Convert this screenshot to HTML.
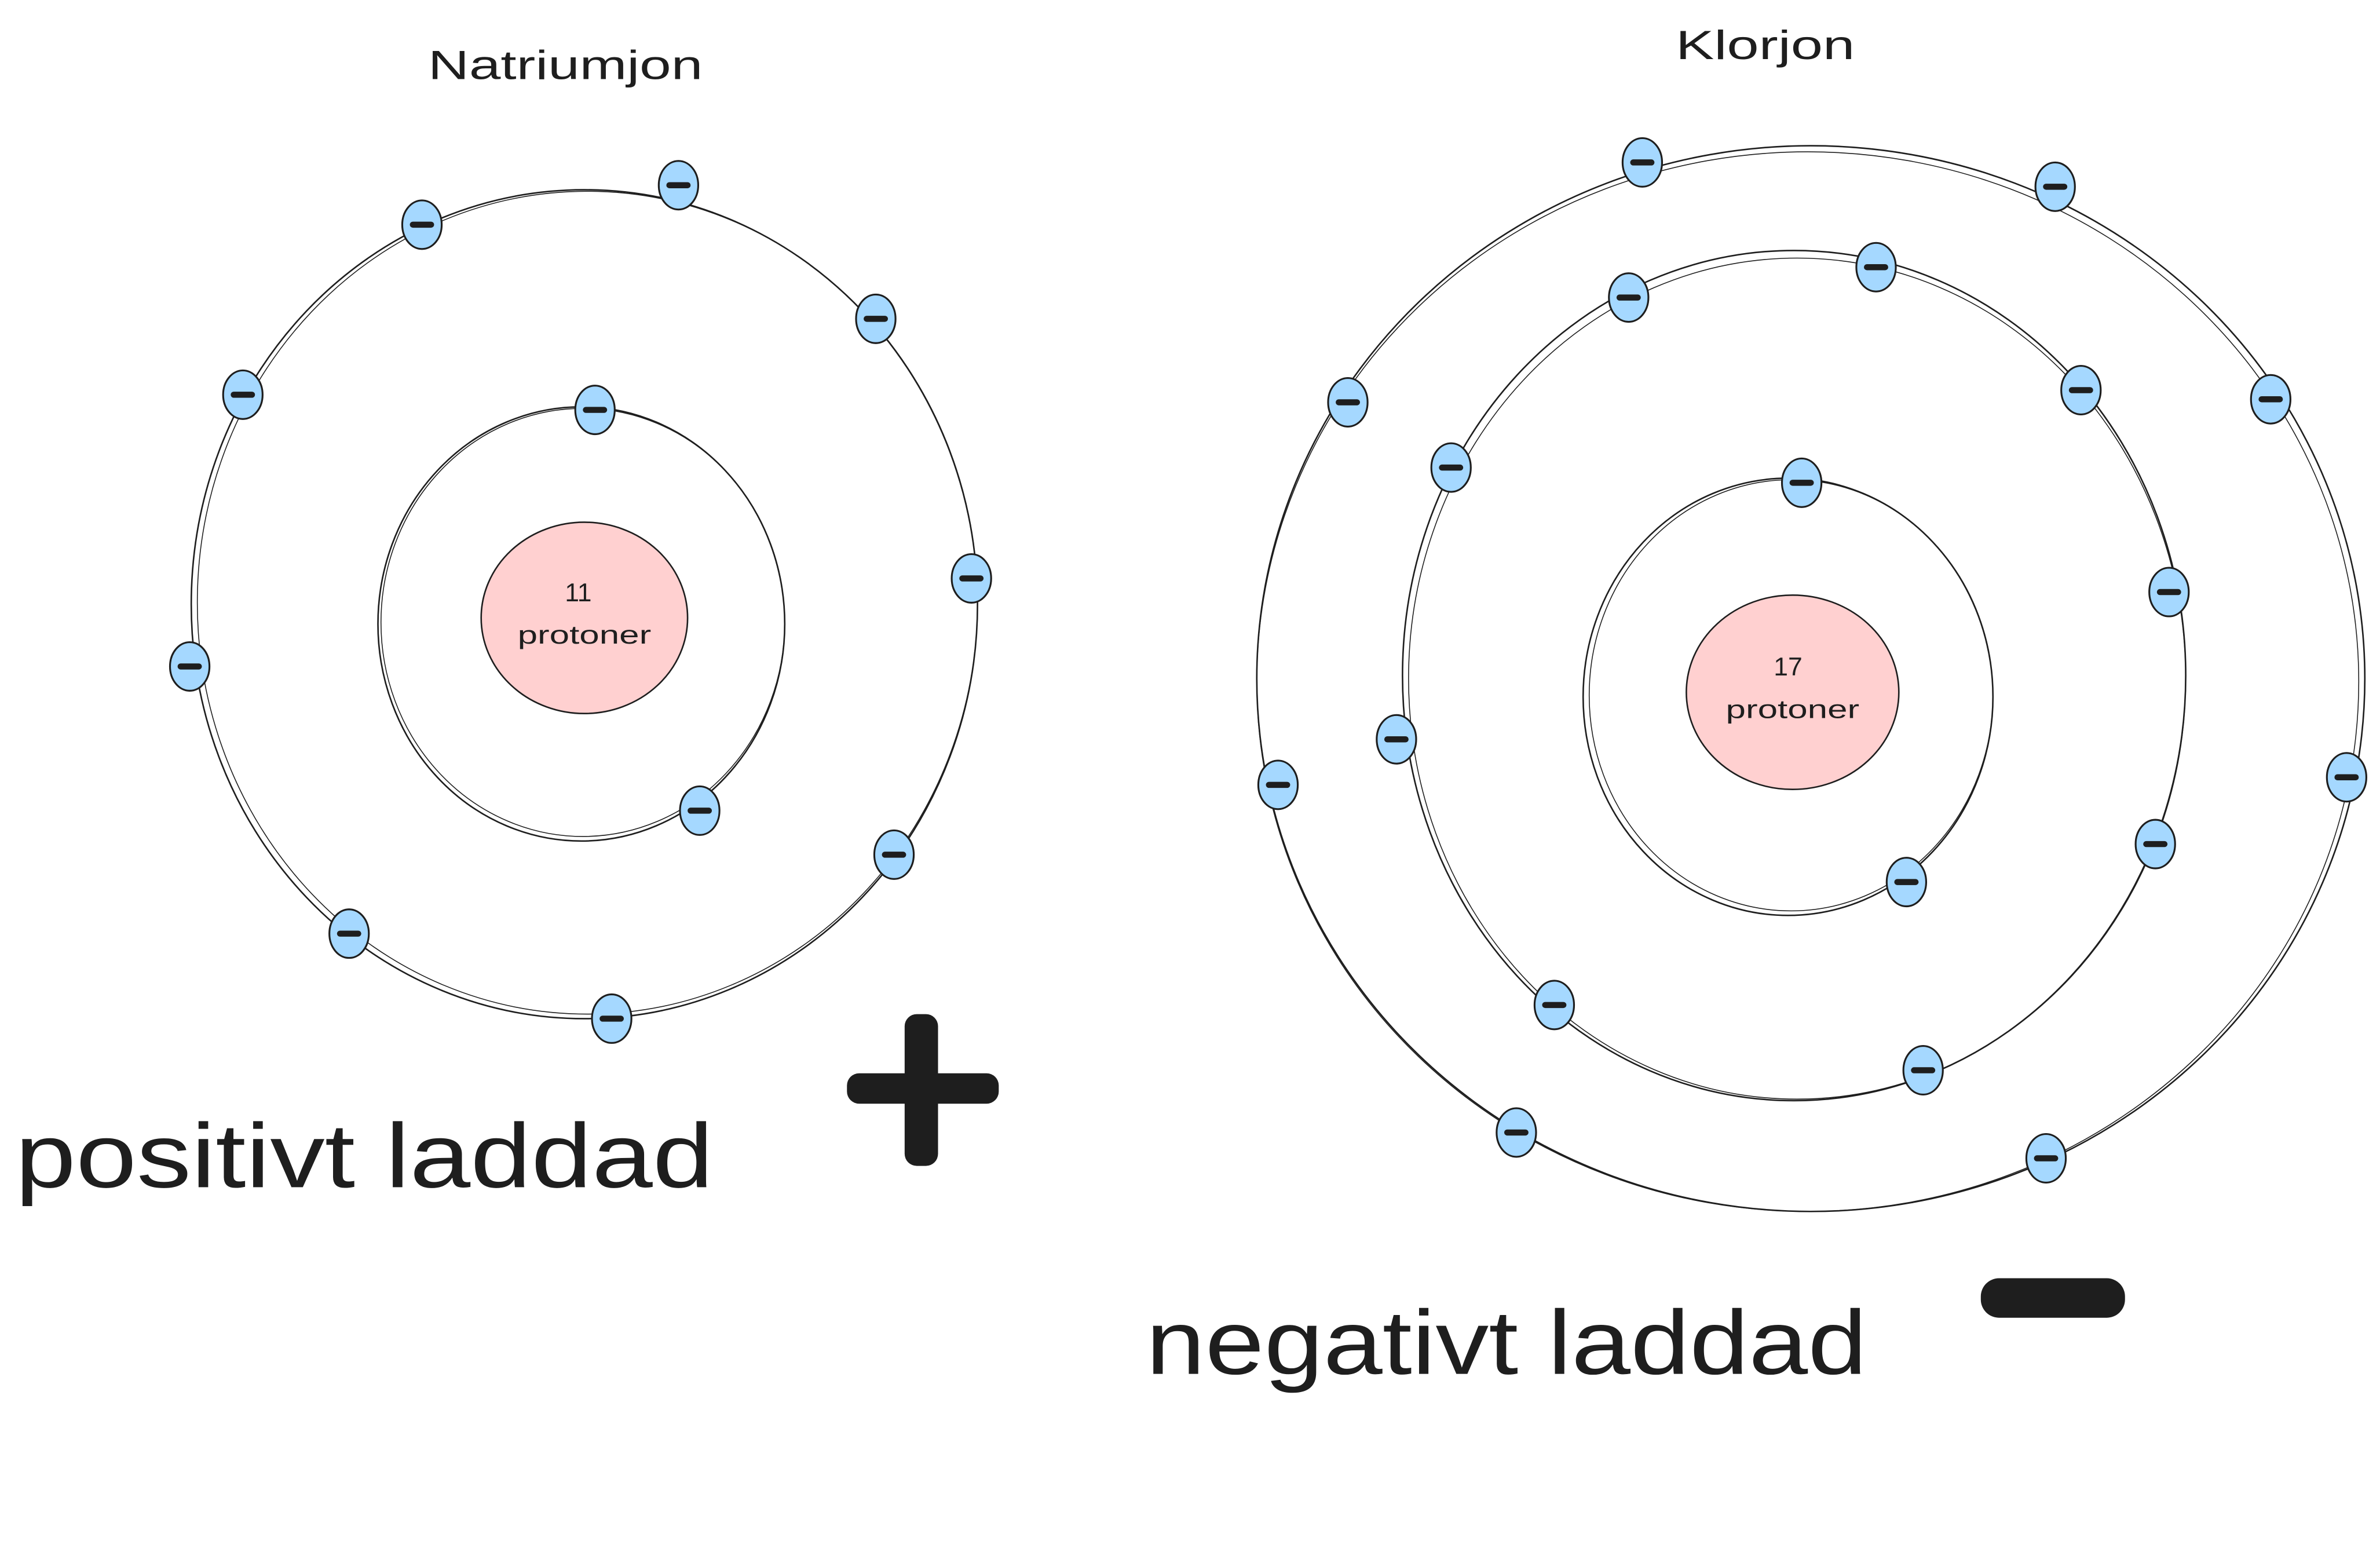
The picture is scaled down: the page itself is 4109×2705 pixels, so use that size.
<!DOCTYPE html>
<html><head><meta charset="utf-8"><style>
html,body{margin:0;padding:0;background:#fff;width:4109px;height:2705px;overflow:hidden}
svg{display:block}
text{font-family:"Liberation Sans",sans-serif;fill:#1e1e1e}
</style></head><body>
<svg width="4109" height="2705" viewBox="0 0 1568 1032.2" preserveAspectRatio="none" xmlns="http://www.w3.org/2000/svg">
<defs>
<g id="e">
<ellipse cx="0" cy="0" rx="13" ry="16" fill="#a5d8ff" stroke="#1e1e1e" stroke-width="1.2"/>
<rect x="-8" y="-2" width="16" height="4" rx="2" fill="#1e1e1e"/>
</g>
</defs>
<g fill="none" stroke="#1e1e1e" stroke-width="1">
<ellipse cx="383" cy="411" rx="134" ry="143"/>
<ellipse cx="384" cy="410" rx="133" ry="141" stroke-width="0.6"/>
<ellipse cx="385" cy="398" rx="259" ry="273"/>
<ellipse cx="387" cy="397" rx="257" ry="271" stroke-width="0.6"/>
<ellipse cx="1178" cy="459" rx="135" ry="144"/>
<ellipse cx="1180" cy="458" rx="133" ry="142" stroke-width="0.6"/>
<ellipse cx="1182" cy="445" rx="258" ry="280"/>
<ellipse cx="1184" cy="447" rx="256" ry="277" stroke-width="0.6"/>
<ellipse cx="1193" cy="447" rx="365" ry="351"/>
<ellipse cx="1191" cy="449" rx="363" ry="349" stroke-width="0.6"/>
</g>
<ellipse cx="385" cy="407" rx="68" ry="63" fill="#ffd0d0" stroke="#1e1e1e" stroke-width="1"/>
<ellipse cx="1181" cy="456" rx="70" ry="64" fill="#ffd0d0" stroke="#1e1e1e" stroke-width="1"/>
<text x="381" y="396" font-size="17" text-anchor="middle">11</text>
<text x="341" y="424" font-size="17" textLength="88" lengthAdjust="spacingAndGlyphs">protoner</text>
<text x="1178" y="445" font-size="17" text-anchor="middle">17</text>
<text x="1137" y="473" font-size="17" textLength="88" lengthAdjust="spacingAndGlyphs">protoner</text>
<use href="#e" x="278" y="148"/><use href="#e" x="447" y="122"/><use href="#e" x="577" y="210"/>
<use href="#e" x="160" y="260"/><use href="#e" x="392" y="270"/><use href="#e" x="640" y="381"/>
<use href="#e" x="125" y="439"/><use href="#e" x="461" y="534"/><use href="#e" x="589" y="563"/>
<use href="#e" x="230" y="615"/><use href="#e" x="403" y="671"/>
<use href="#e" x="1082" y="107"/><use href="#e" x="1354" y="123"/><use href="#e" x="1236" y="176"/>
<use href="#e" x="1073" y="196"/><use href="#e" x="888" y="265"/><use href="#e" x="1371" y="257"/>
<use href="#e" x="1496" y="263"/><use href="#e" x="956" y="308"/><use href="#e" x="1187" y="318"/>
<use href="#e" x="1429" y="390"/><use href="#e" x="920" y="487"/><use href="#e" x="842" y="517"/>
<use href="#e" x="1546" y="512"/><use href="#e" x="1420" y="556"/><use href="#e" x="1256" y="581"/>
<use href="#e" x="1024" y="662"/><use href="#e" x="1267" y="705"/><use href="#e" x="999" y="746"/>
<use href="#e" x="1348" y="763"/>
<text x="282" y="52" font-size="27" textLength="181" lengthAdjust="spacingAndGlyphs">Natriumjon</text>
<text x="1104" y="39" font-size="27" textLength="118" lengthAdjust="spacingAndGlyphs">Klorjon</text>
<text x="10" y="782" font-size="60" textLength="460" lengthAdjust="spacingAndGlyphs">positivt laddad</text>
<text x="755" y="905" font-size="60" textLength="475" lengthAdjust="spacingAndGlyphs">negativt laddad</text>
<rect x="558" y="707" width="100" height="20" rx="8" fill="#1e1e1e"/>
<rect x="596" y="668" width="22" height="100" rx="8" fill="#1e1e1e"/>
<rect x="1305" y="842" width="95" height="26" rx="12" fill="#1e1e1e"/>
</svg>
</body></html>
